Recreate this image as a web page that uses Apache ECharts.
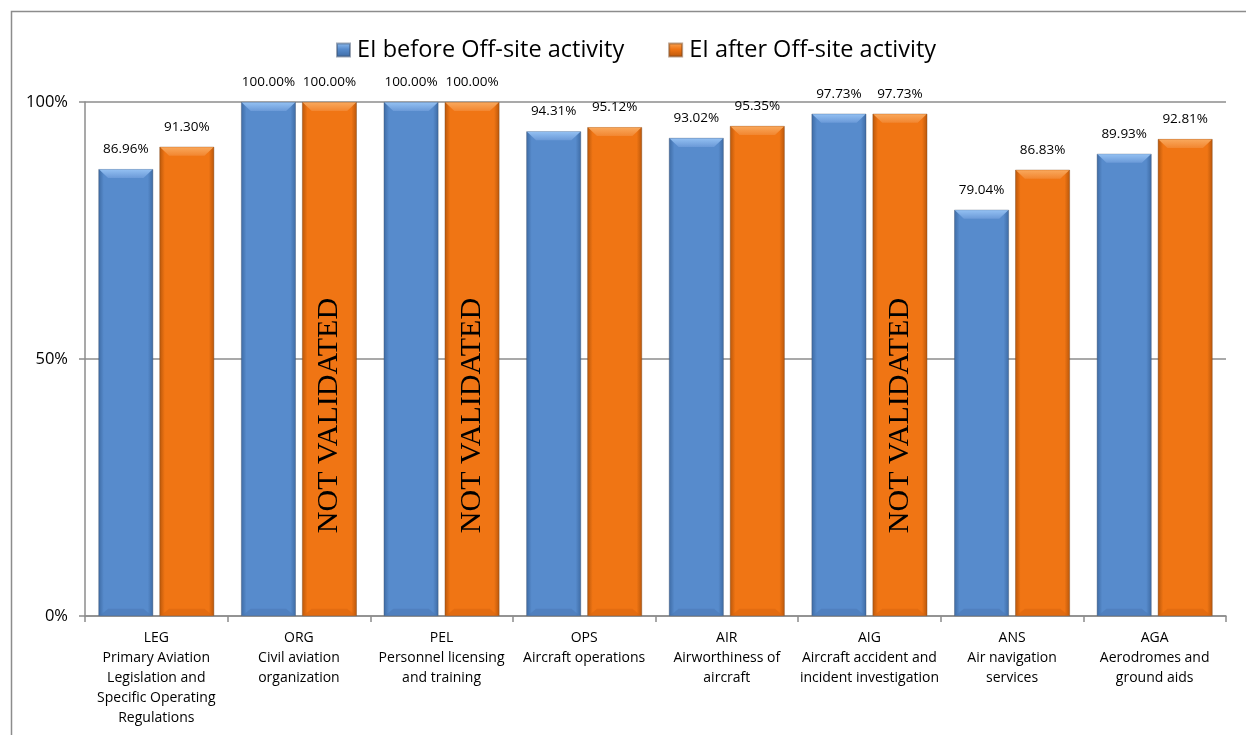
<!DOCTYPE html>
<html>
<head>
<meta charset="utf-8">
<script src="https://cdn.jsdelivr.net/npm/echarts@6/dist/echarts.min.js"></script>
<style>
html,body{margin:0;padding:0;background:#fff;}
#chart{width:1246px;height:735px;}
</style>
</head>
<body>
<div id="chart"></div>
<script>
const categories = [
  'LEG\nPrimary Aviation\nLegislation and\nSpecific Operating\nRegulations',
  'ORG\nCivil aviation\norganization',
  'PEL\nPersonnel licensing\nand training',
  'OPS\nAircraft operations',
  'AIR\nAirworthiness of\naircraft',
  'AIG\nAircraft accident and\nincident investigation',
  'ANS\nAir navigation\nservices',
  'AGA\nAerodromes and\nground aids'
];
const seriesNames = ['EI before Off-site activity', 'EI after Off-site activity'];
const eiBefore = [86.96, 100.00, 100.00, 94.31, 93.02, 97.73, 79.04, 89.93];
const eiAfter  = [91.30, 100.00, 100.00, 95.12, 95.35, 97.73, 86.83, 92.81];
const notValidated = [false, true, true, false, false, true, false, false];
const notValidatedText = 'NOT VALIDATED';
const yTicks = [0, 50, 100];

const CAT_GAP = 0.187;
const BAR_GAP = 0.11;

const palettes = [
  {edge:'#3d6aa3', base:'#578bcc', light:'#93c0f2', lightEnd:'#6b9ad8', dark:'#4a78b4'},
  {edge:'#b8560a', base:'#f07514', light:'#f9a85c', lightEnd:'#f28630', dark:'#d8650e'}
];

function sideGradient(p){
  return new echarts.graphic.LinearGradient(0,0,1,0,[
    {offset:0,color:p.edge},{offset:0.1,color:p.base},
    {offset:0.9,color:p.base},{offset:1,color:p.edge}
  ]);
}

function barGeom(api, idx, s){
  const c = api.coord([idx, 0]);
  const B = api.size([1, 0])[0];
  const w = B*(1-CAT_GAP)/(2+BAR_GAP);
  const left = c[0] - (2*w + BAR_GAP*w)/2 + s*(w + BAR_GAP*w);
  return {left:left, w:w, y0:c[1]};
}

const bevelData = [];
eiBefore.forEach((v,i)=>bevelData.push([i, v, 0]));
eiAfter.forEach((v,i)=>bevelData.push([i, v, 1]));

const nvData = [];
eiAfter.forEach((v,i)=>{ if(notValidated[i]) nvData.push([i, v, 1]); });

const chart = echarts.init(document.getElementById('chart'), null, {renderer:'canvas'});

const labelStyle = {
  show:true, position:'top', distance:13,
  fontFamily:'Open Sans', fontSize:13.5, color:'#000',
  formatter:p=>p.value.toFixed(2)+'%'
};

chart.setOption({
  backgroundColor:'#fff',
  animation:false,
  graphic:[{
    type:'rect', left:9, top:9, shape:{width:1300,height:800},
    style:{fill:'none', stroke:'#8c8c8c', lineWidth:1.5}, silent:true
  }],
  legend:{
    data:seriesNames.map((n,i)=>({name:n, itemStyle:{color:new echarts.graphic.LinearGradient(0,0,0,1,[{offset:0,color:palettes[i].light},{offset:0.45,color:palettes[i].base},{offset:1,color:palettes[i].edge}])}})),
    top:33, left:331, itemWidth:13, itemHeight:13, itemGap:44,
    icon:'rect',
    textStyle:{fontFamily:'Open Sans', fontSize:23.5, color:'#000', padding:[0,0,0,2]}
  },
  grid:{left:85, right:20, top:102, bottom:119, containLabel:false},
  xAxis:{
    type:'category', data:categories,
    axisLine:{show:true, lineStyle:{color:'#8c8c8c', width:1.5}},
    axisTick:{show:true, alignWithLabel:false, length:6, lineStyle:{color:'#8c8c8c', width:1.5}},
    axisLabel:{interval:0, margin:12, fontFamily:'Open Sans', fontSize:14, lineHeight:20, color:'#000'}
  },
  yAxis:{
    type:'value', min:0, max:100, interval:50,
    axisLine:{show:true, lineStyle:{color:'#8c8c8c', width:1.5}},
    axisTick:{show:true, length:6, lineStyle:{color:'#8c8c8c', width:1.5}},
    axisLabel:{margin:17, fontFamily:'Open Sans', fontSize:16.5, color:'#000', formatter:'{value}%'},
    splitLine:{show:true, lineStyle:{color:'#8c8c8c', width:1.5}}
  },
  series:[
    {
      name:seriesNames[0], type:'bar', data:eiBefore,
      barCategoryGap:(CAT_GAP*100)+'%', barGap:(BAR_GAP*100)+'%',
      itemStyle:{color:sideGradient(palettes[0]), borderColor:'rgba(60,80,110,0.5)', borderWidth:0.8},
      label:labelStyle, z:2
    },
    {
      name:seriesNames[1], type:'bar', data:eiAfter,
      barCategoryGap:(CAT_GAP*100)+'%', barGap:(BAR_GAP*100)+'%',
      itemStyle:{color:sideGradient(palettes[1]), borderColor:'rgba(120,70,30,0.5)', borderWidth:0.8},
      label:labelStyle, z:2
    },
    {
      name:'bevel', type:'custom', data:bevelData, z:3, silent:true,
      encode:{x:0, y:1},
      renderItem:function(params, api){
        const idx = api.value(0), v = api.value(1), s = api.value(2);
        const g = barGeom(api, idx, s);
        const top = api.coord([idx, v])[1];
        const p = palettes[s];
        const d = Math.min(9, g.w*0.17);
        const l = g.left+0.8, r = g.left+g.w-0.8;
        return {type:'group', children:[
          {type:'polygon', shape:{points:[[l,top+0.5],[r,top+0.5],[r-d,top+d],[l+d,top+d]]},
            style:{fill:new echarts.graphic.LinearGradient(0,0,0,1,[{offset:0,color:p.light},{offset:1,color:p.lightEnd}])}},
          {type:'polygon', shape:{points:[[l,g.y0],[r,g.y0],[r-d,g.y0-d*0.8],[l+d,g.y0-d*0.8]]},
            style:{fill:p.dark, opacity:0.55}}
        ]};
      }
    },
    {
      name:'nv', type:'custom', data:nvData, z:4, silent:true,
      encode:{x:0, y:1},
      renderItem:function(params, api){
        const idx = api.value(0), s = api.value(2);
        const g = barGeom(api, idx, s);
        const yFull = api.coord([idx, yTicks[2]])[1];
        const cy = g.y0 + (yFull - g.y0)*0.39;
        return {type:'text', x:g.left+g.w/2, y:cy, rotation:Math.PI/2,
          style:{text:notValidatedText, font:'30px "Liberation Serif"', fill:'#000', align:'center', verticalAlign:'middle'}};
      }
    }
  ]
});
</script>
</body>
</html>
